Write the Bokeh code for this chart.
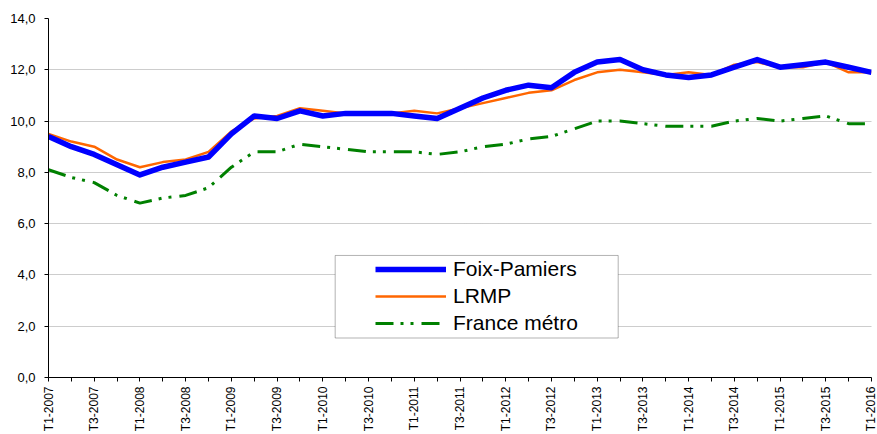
import math
from bokeh.plotting import figure
from bokeh.models import Range1d, FixedTicker, Legend, LegendItem, BoxAnnotation
from bokeh.embed import file_html
from bokeh.resources import INLINE

quarters = ["T1-2007", "T2-2007", "T3-2007", "T4-2007",
            "T1-2008", "T2-2008", "T3-2008", "T4-2008",
            "T1-2009", "T2-2009", "T3-2009", "T4-2009",
            "T1-2010", "T2-2010", "T3-2010", "T4-2010",
            "T1-2011", "T2-2011", "T3-2011", "T4-2011",
            "T1-2012", "T2-2012", "T3-2012", "T4-2012",
            "T1-2013", "T2-2013", "T3-2013", "T4-2013",
            "T1-2014", "T2-2014", "T3-2014", "T4-2014",
            "T1-2015", "T2-2015", "T3-2015", "T4-2015",
            "T1-2016"]

foix = [9.4, 9.0, 8.7, 8.3, 7.9, 8.2, 8.4, 8.6, 9.5, 10.2, 10.1, 10.4,
        10.2, 10.3, 10.3, 10.3, 10.2, 10.1, 10.5, 10.9, 11.2, 11.4, 11.3, 11.9,
        12.3, 12.4, 12.0, 11.8, 11.7, 11.8, 12.1, 12.4, 12.1, 12.2, 12.3, 12.1, 11.9]
lrmp = [9.5, 9.2, 9.0, 8.5, 8.2, 8.4, 8.5, 8.8, 9.6, 10.1, 10.2, 10.5,
        10.4, 10.3, 10.3, 10.3, 10.4, 10.3, 10.5, 10.7, 10.9, 11.1, 11.2, 11.6,
        11.9, 12.0, 11.9, 11.8, 11.9, 11.8, 12.2, 12.3, 12.1, 12.1, 12.3, 11.9, 11.9]
france = [8.1, 7.8, 7.6, 7.1, 6.8, 7.0, 7.1, 7.4, 8.2, 8.8, 8.8, 9.1,
          9.0, 8.9, 8.8, 8.8, 8.8, 8.7, 8.8, 9.0, 9.1, 9.3, 9.4, 9.7,
          10.0, 10.0, 9.9, 9.8, 9.8, 9.8, 10.0, 10.1, 10.0, 10.1, 10.2, 9.9, 9.9]
series_names = ["Foix-Pamiers", "LRMP", "France métro"]
y_ticks = [0, 2, 4, 6, 8, 10, 12, 14]
y_labels = ["0,0", "2,0", "4,0", "6,0", "8,0", "10,0", "12,0", "14,0"]

x = list(range(len(quarters)))
FONT = "Liberation Sans"

p = figure(width=877, height=434, output_backend="svg", toolbar_location=None,
           x_range=Range1d(0, len(quarters) - 1), y_range=Range1d(0, 14),
           min_border_left=48, min_border_right=6, min_border_top=18,
           min_border_bottom=56)
p.outline_line_color = None
p.background_fill_color = "white"

# axes
major = [i for i in x if i % 2 == 0]
minor = [i for i in x if i % 2 == 1]
p.xaxis.ticker = FixedTicker(ticks=major, minor_ticks=minor)
p.xaxis.major_label_overrides = {i: quarters[i] for i in major}
p.xaxis.major_label_orientation = math.pi / 2
p.xaxis.major_tick_in = 0
p.xaxis.major_tick_out = 4
p.xaxis.minor_tick_in = 0
p.xaxis.minor_tick_out = 4
p.xaxis.major_label_standoff = 5
p.yaxis.ticker = FixedTicker(ticks=y_ticks)
p.yaxis.major_label_overrides = {t: l for t, l in zip(y_ticks, y_labels)}
p.yaxis.major_tick_in = 0
p.yaxis.major_tick_out = 4
p.yaxis.minor_tick_line_color = None
p.yaxis.major_label_standoff = 9
for ax in (p.xaxis, p.yaxis):
    ax.axis_line_color = "black"
    ax.major_tick_line_color = "black"
    ax.major_label_text_font = FONT
    ax.major_label_text_color = "black"
p.xaxis.minor_tick_line_color = "black"
p.xaxis.major_label_text_font_size = "12px"
p.yaxis.major_label_text_font_size = "13px"

p.xgrid.grid_line_color = None
p.ygrid.ticker = FixedTicker(ticks=y_ticks[1:])
p.ygrid.grid_line_color = "#9a9a9a"
p.ygrid.grid_line_dash = "1 1"
p.ygrid.grid_line_width = 1

r3 = p.line(x, france, line_color="#008000", line_width=3,
            line_dash="18 7 3 7 3 8")
r2 = p.line(x, lrmp, line_color="#FF6600", line_width=2.5)
r1 = p.line(x, foix, line_color="#0000FF", line_width=5.5, line_join="round")

box = BoxAnnotation(left=12.54, right=24.92, bottom=1.54, top=4.76,
                    fill_color="white", fill_alpha=1.0,
                    line_color="black", line_width=1)
p.add_layout(box)

legend = Legend(items=[LegendItem(label=series_names[0], renderers=[r1]),
                       LegendItem(label=series_names[1], renderers=[r2]),
                       LegendItem(label=series_names[2], renderers=[r3])],
                location=(327, 42), padding=0, margin=0, spacing=3,
                glyph_width=71, glyph_height=20, label_height=20,
                label_standoff=7, label_text_font=FONT,
                label_text_font_size="21px", label_text_color="black",
                border_line_color=None, background_fill_alpha=0)
p.add_layout(legend, "center")

open("out.html", "w").write(file_html(p, INLINE))
